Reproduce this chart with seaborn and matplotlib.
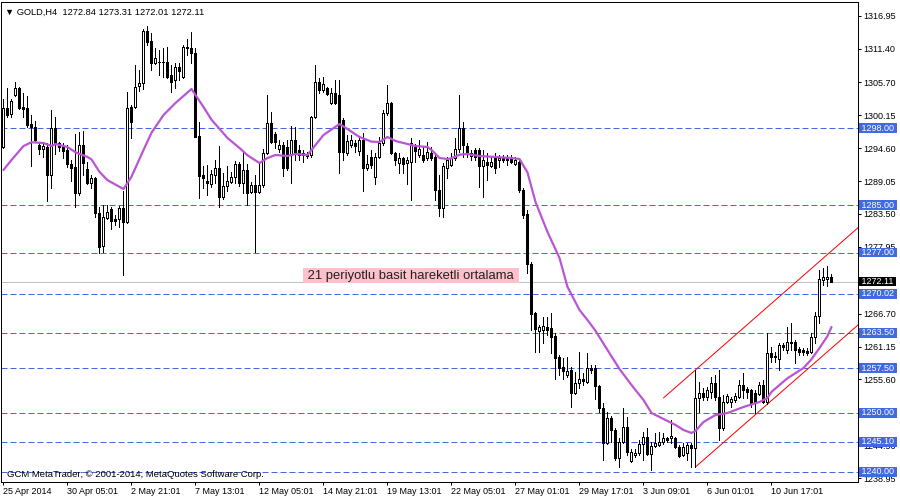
import matplotlib
matplotlib.use("Agg")
import matplotlib.pyplot as plt
import matplotlib.transforms as mtransforms
import numpy as np
import pandas as pd
import seaborn as sns

# GOLD H4 candles, bar 0 = 25 Apr 2014
opens = [
    1294.81, 1301.38, 1300.37, 1303.57, 1304.75, 1301.55, 1301.38, 1298.68, 1298.18, 1295.14,
    1294.47, 1294.81, 1290.08, 1298.01, 1295.48, 1294.97, 1294.30, 1291.94, 1291.43, 1287.04,
    1295.14, 1291.10, 1288.74, 1289.58, 1283.67, 1278.10, 1282.83, 1284.34, 1282.66, 1282.66,
    1284.51, 1282.15, 1301.55, 1301.55, 1305.09, 1305.60, 1314.36, 1312.68, 1308.97, 1309.14,
    1309.14, 1309.14, 1306.95, 1306.10, 1308.29, 1306.61, 1311.66, 1311.50, 1310.65, 1296.66,
    1290.08, 1289.07, 1288.57, 1290.08, 1291.26, 1286.37, 1288.23, 1288.90, 1289.75, 1291.94,
    1288.74, 1290.92, 1287.21, 1288.40, 1287.21, 1288.40, 1293.80, 1298.85, 1297.00, 1294.47,
    1295.14, 1294.81, 1293.46, 1295.99, 1294.30, 1293.46, 1293.46, 1293.46, 1299.86, 1305.76,
    1304.42, 1304.75, 1302.22, 1303.91, 1303.57, 1299.36, 1293.80, 1295.14, 1295.48, 1294.13,
    1295.99, 1291.26, 1293.12, 1289.75, 1293.12, 1295.48, 1300.54, 1302.22, 1293.80, 1292.11,
    1292.95, 1292.11, 1292.27, 1294.81, 1293.46, 1293.46, 1292.95, 1293.80, 1293.12, 1287.55,
    1284.51, 1291.26, 1291.77, 1292.95, 1294.47, 1298.01, 1294.97, 1293.29, 1294.30, 1294.30,
    1291.60, 1292.27, 1291.60, 1293.12, 1292.61, 1293.12, 1292.95, 1292.95, 1291.94, 1292.27,
    1287.55, 1283.50, 1275.07, 1266.81, 1263.77, 1263.94, 1264.45, 1264.28, 1262.92, 1259.39,
    1257.70, 1256.35, 1257.19, 1253.32, 1255.00, 1255.68, 1255.17, 1257.53, 1257.53, 1254.50,
    1250.79, 1244.88, 1249.10, 1247.08, 1242.35, 1245.05, 1247.58, 1241.84, 1242.86, 1243.19,
    1244.71, 1245.89, 1243.03, 1244.38, 1244.55, 1245.05, 1245.72, 1245.72, 1245.72, 1244.21,
    1242.86, 1243.19, 1244.55, 1244.04, 1252.48, 1253.32, 1252.65, 1253.49, 1255.00, 1252.65,
    1247.42, 1251.80, 1251.80, 1252.14, 1252.65, 1254.67, 1254.00, 1253.83, 1253.32, 1253.15,
    1254.67, 1251.80, 1260.07, 1259.56, 1259.05, 1261.41, 1260.57, 1261.92, 1261.92, 1260.74,
    1260.57, 1260.40, 1260.24, 1262.76, 1266.30, 1272.37, 1272.54, 1272.84,
]
highs = [
    1302.90, 1304.75, 1302.90, 1305.76, 1304.92, 1303.91, 1303.40, 1300.20, 1299.19, 1295.48,
    1295.48, 1295.48, 1301.04, 1299.86, 1295.65, 1295.48, 1295.14, 1292.61, 1297.00, 1297.33,
    1297.50, 1292.27, 1290.08, 1289.75, 1284.68, 1285.02, 1285.02, 1284.68, 1283.33, 1284.85,
    1287.38, 1304.08, 1301.89, 1308.63, 1307.79, 1314.70, 1315.21, 1314.03, 1311.50, 1311.16,
    1311.50, 1311.66, 1308.63, 1308.97, 1308.97, 1312.00, 1313.01, 1314.19, 1311.50, 1299.02,
    1291.60, 1291.77, 1290.92, 1292.61, 1294.97, 1290.42, 1291.60, 1290.59, 1292.44, 1292.27,
    1294.13, 1291.94, 1288.90, 1290.08, 1292.27, 1294.47, 1303.57, 1300.71, 1297.33, 1295.99,
    1295.65, 1295.99, 1298.34, 1298.18, 1295.14, 1294.30, 1293.97, 1300.03, 1308.63, 1306.44,
    1306.61, 1304.92, 1304.75, 1306.10, 1306.10, 1299.70, 1296.83, 1296.83, 1295.99, 1296.49,
    1297.17, 1293.46, 1294.30, 1293.80, 1296.49, 1301.04, 1305.26, 1302.39, 1293.97, 1293.80,
    1293.12, 1293.12, 1296.32, 1295.31, 1295.99, 1294.81, 1295.65, 1294.81, 1293.46, 1290.08,
    1292.11, 1293.12, 1293.80, 1296.32, 1303.57, 1299.02, 1295.48, 1294.30, 1294.64, 1294.64,
    1294.30, 1293.80, 1293.12, 1293.80, 1293.46, 1293.46, 1293.46, 1293.46, 1293.12, 1292.61,
    1287.88, 1284.17, 1275.41, 1266.98, 1264.78, 1266.14, 1266.14, 1266.81, 1263.43, 1259.73,
    1259.22, 1259.39, 1257.70, 1256.86, 1260.24, 1256.69, 1260.07, 1258.04, 1258.04, 1254.67,
    1251.63, 1250.12, 1249.44, 1247.42, 1245.72, 1250.79, 1249.27, 1243.87, 1243.87, 1245.39,
    1246.74, 1247.42, 1245.05, 1246.57, 1246.74, 1246.57, 1245.89, 1248.76, 1245.89, 1244.55,
    1244.88, 1244.88, 1244.88, 1257.20, 1255.17, 1254.17, 1254.34, 1256.02, 1256.35, 1257.20,
    1252.98, 1253.15, 1252.65, 1253.32, 1255.51, 1256.69, 1254.34, 1254.00, 1253.83, 1255.17,
    1255.51, 1263.43, 1261.08, 1260.24, 1261.75, 1261.75, 1264.45, 1265.12, 1262.25, 1261.08,
    1260.91, 1260.91, 1263.43, 1266.98, 1274.06, 1274.40, 1274.73, 1273.31,
]
lows = [
    1294.64, 1299.86, 1299.86, 1303.40, 1301.21, 1299.86, 1298.18, 1291.60, 1295.65, 1293.63,
    1293.12, 1285.69, 1287.88, 1293.63, 1294.13, 1292.95, 1291.43, 1289.07, 1284.68, 1286.70,
    1290.08, 1288.60, 1287.88, 1283.00, 1276.93, 1277.10, 1282.66, 1280.97, 1281.64, 1281.30,
    1273.22, 1281.90, 1296.32, 1301.30, 1304.25, 1304.58, 1312.00, 1307.79, 1308.80, 1306.95,
    1306.61, 1306.44, 1304.08, 1304.75, 1306.10, 1306.44, 1310.31, 1308.97, 1296.40, 1286.20,
    1287.88, 1286.70, 1288.05, 1288.74, 1284.68, 1286.03, 1287.38, 1288.74, 1288.74, 1288.23,
    1287.04, 1285.02, 1287.04, 1277.10, 1287.04, 1288.05, 1293.63, 1295.48, 1294.64, 1293.97,
    1289.91, 1290.90, 1288.74, 1292.61, 1292.61, 1292.27, 1292.95, 1293.12, 1299.69, 1303.91,
    1304.08, 1303.57, 1302.10, 1302.10, 1290.42, 1292.61, 1293.46, 1294.81, 1293.97, 1293.46,
    1287.38, 1290.92, 1291.26, 1288.57, 1292.95, 1295.14, 1300.20, 1293.63, 1291.77, 1290.42,
    1290.42, 1288.57, 1285.86, 1292.27, 1293.12, 1292.27, 1292.61, 1292.61, 1285.86, 1283.16,
    1283.00, 1289.58, 1291.60, 1292.61, 1293.97, 1293.12, 1293.12, 1292.61, 1292.61, 1288.05,
    1286.37, 1289.24, 1291.43, 1290.42, 1291.43, 1292.27, 1291.77, 1292.11, 1291.77, 1287.21,
    1282.83, 1273.55, 1263.94, 1260.24, 1260.24, 1261.75, 1263.10, 1260.07, 1255.68, 1256.35,
    1255.68, 1256.02, 1250.96, 1253.15, 1254.17, 1254.67, 1255.00, 1256.69, 1252.31, 1250.12,
    1242.01, 1244.71, 1245.05, 1242.01, 1240.84, 1244.88, 1242.86, 1241.68, 1242.52, 1242.86,
    1242.01, 1242.86, 1240.33, 1244.21, 1244.40, 1244.71, 1245.05, 1244.88, 1244.10, 1242.52,
    1242.69, 1242.01, 1240.84, 1240.84, 1250.12, 1252.14, 1252.14, 1252.48, 1252.14, 1245.39,
    1247.08, 1251.63, 1250.96, 1251.80, 1252.48, 1252.48, 1252.48, 1250.96, 1249.95, 1252.98,
    1251.63, 1251.50, 1258.54, 1258.54, 1257.20, 1260.57, 1260.07, 1260.57, 1258.38, 1259.73,
    1259.73, 1259.73, 1260.07, 1261.75, 1265.12, 1271.53, 1271.36, 1272.01,
]
closes = [
    1301.38, 1300.20, 1302.56, 1304.75, 1301.38, 1301.21, 1298.51, 1298.18, 1295.99, 1294.47,
    1294.97, 1290.08, 1298.01, 1295.48, 1294.81, 1294.13, 1291.94, 1291.26, 1287.04, 1295.14,
    1292.11, 1288.74, 1289.58, 1283.67, 1277.94, 1283.00, 1283.84, 1282.32, 1282.32, 1284.51,
    1282.15, 1301.38, 1299.02, 1304.92, 1305.60, 1314.36, 1312.51, 1308.97, 1309.81, 1309.10,
    1309.20, 1306.61, 1305.76, 1308.29, 1307.62, 1311.66, 1311.50, 1310.65, 1296.49, 1289.91,
    1289.58, 1288.74, 1290.25, 1291.26, 1286.37, 1288.23, 1289.07, 1289.75, 1291.94, 1288.74,
    1290.92, 1287.04, 1288.40, 1287.21, 1288.40, 1293.80, 1298.85, 1295.65, 1295.65, 1295.14,
    1291.26, 1291.26, 1295.99, 1293.63, 1293.46, 1293.80, 1293.29, 1299.86, 1305.76, 1304.42,
    1305.43, 1303.74, 1303.91, 1302.22, 1293.97, 1293.97, 1295.82, 1295.99, 1294.97, 1295.99,
    1291.26, 1291.94, 1291.77, 1293.12, 1295.48, 1300.54, 1302.22, 1293.80, 1292.61, 1292.95,
    1291.94, 1292.61, 1295.48, 1294.13, 1294.47, 1292.61, 1293.97, 1292.95, 1287.55, 1284.51,
    1291.60, 1292.61, 1292.95, 1294.47, 1298.01, 1295.14, 1293.80, 1293.80, 1293.12, 1291.60,
    1292.61, 1291.77, 1292.27, 1291.26, 1292.95, 1292.61, 1292.61, 1292.27, 1292.61, 1287.55,
    1283.33, 1275.07, 1266.64, 1264.11, 1264.45, 1264.62, 1263.94, 1262.76, 1259.22, 1257.53,
    1257.03, 1257.03, 1253.32, 1255.00, 1255.68, 1255.34, 1257.53, 1257.19, 1254.50, 1250.79,
    1244.88, 1249.10, 1247.08, 1242.35, 1245.05, 1247.58, 1243.36, 1243.36, 1243.19, 1244.71,
    1245.89, 1243.03, 1244.38, 1244.88, 1245.05, 1245.72, 1245.39, 1246.06, 1244.21, 1242.69,
    1244.21, 1244.55, 1244.04, 1252.48, 1253.32, 1252.65, 1253.83, 1255.00, 1252.65, 1247.42,
    1251.80, 1252.81, 1252.31, 1252.81, 1254.67, 1253.83, 1253.49, 1251.63, 1251.63, 1254.67,
    1251.80, 1260.07, 1259.39, 1259.39, 1261.41, 1261.08, 1261.92, 1261.75, 1260.57, 1260.24,
    1260.24, 1260.07, 1262.76, 1266.30, 1272.54, 1272.88, 1272.88, 1272.11,
]

# 21-period simple moving average
ma_bars = [0, 2, 5, 7, 10, 12, 13, 16, 18, 21, 22, 24, 26, 30, 32, 35, 37, 40, 43, 47,
           50, 52, 56, 59, 61, 64, 66, 68, 71, 73, 76, 77, 80, 84, 86, 89, 92, 94, 96, 98,
           101, 103, 106, 107, 109, 111, 112, 114, 116, 119, 123, 127, 129, 131, 133, 136,
           139, 141, 144, 146, 148, 151, 154, 157, 160, 162, 165, 168, 170, 172, 173, 175,
           178, 181, 185, 189, 191, 192, 194, 196, 200, 202, 204, 206, 207]
ma_values = [1290.92, 1292.60, 1294.96, 1295.60, 1295.47, 1294.96, 1295.30, 1294.80, 1293.90,
             1293.11, 1292.70, 1290.60, 1289.20, 1287.71, 1289.80, 1294.29, 1297.20, 1300.19,
             1302.22, 1304.58, 1301.54, 1299.40, 1296.31, 1294.63, 1293.40, 1292.10, 1292.94,
             1293.45, 1293.28, 1293.62, 1293.45, 1294.30, 1296.82, 1298.67, 1297.83, 1296.48,
             1295.70, 1295.64, 1296.48, 1295.81, 1295.30, 1294.96, 1294.80, 1294.30, 1292.94,
             1292.77, 1292.90, 1293.50, 1293.62, 1293.28, 1293.11, 1292.94, 1292.77, 1290.50,
             1285.52, 1280.46, 1276.08, 1271.20, 1267.31, 1265.62, 1263.80, 1260.56, 1257.36,
             1254.66, 1252.13, 1249.94, 1248.93, 1247.92, 1247.07, 1246.57, 1246.91, 1248.42,
             1249.60, 1249.94, 1250.95, 1251.80, 1252.47, 1253.50, 1254.66, 1255.80, 1257.53,
             1259.00, 1260.90, 1262.93, 1264.44]

date_ticks = [0, 16, 32, 48, 64, 80, 96, 112, 128, 144, 160, 176, 192]
date_labels = ["25 Apr 2014", "30 Apr 05:01", "2 May 21:01", "7 May 13:01", "12 May 05:01",
               "14 May 21:01", "19 May 13:01", "22 May 05:01", "27 May 01:01", "29 May 17:01",
               "3 Jun 09:01", "6 Jun 01:01", "10 Jun 17:01"]
price_ticks = [1316.95, 1311.40, 1305.70, 1300.15, 1294.60, 1289.05, 1283.50, 1277.95,
               1272.40, 1266.70, 1261.15, 1255.60, 1250.05, 1244.50, 1238.95]
# tick labels that sit fully under a price box in the original
hidden_ticks = [1272.40, 1250.05]
levels = [1298.00, 1285.00, 1277.00, 1270.02, 1263.50, 1257.50, 1250.00, 1245.10, 1240.00]
bid = 1272.11
upper_x, upper_y = [165, 214], [1252.48, 1281.40]
lower_x, lower_y = [173, 214], [1240.84, 1265.00]

sns.set_style("white")
plt.rcParams['font.family'] = ['Liberation Sans', 'DejaVu Sans']
plt.rcParams['axes.edgecolor'] = 'black'
plt.rcParams['axes.linewidth'] = 0.72

df = pd.DataFrame({'open': opens, 'high': highs, 'low': lows, 'close': closes})
df['bar'] = np.arange(len(df))
rising = df['close'] >= df['open']

fig = plt.figure(figsize=(9, 5), dpi=100)
ax = fig.add_axes([1 / 900, 18 / 500, 857 / 900, 480 / 500])

# horizontal levels, bid line and channel
for v in levels:
    ax.axhline(v, color='#4169E1', linewidth=0.72, linestyle=(0, (6, 3)), zorder=1)
ax.axhline(bid, color='#C0C0C0', linewidth=0.72, zorder=1)
ax.plot(upper_x, upper_y, color='red', linewidth=0.72, zorder=2)
ax.plot(lower_x, lower_y, color='red', linewidth=0.72, zorder=2)

# candles: wicks, then bodies (hollow when rising)
ax.vlines(df['bar'], df['low'], df['high'], color='black', linewidth=0.72,
          antialiased=False, zorder=3)
ax.bar(df['bar'], (df['close'] - df['open']).abs(),
       bottom=df[['open', 'close']].min(axis=1), width=0.5,
       color=np.where(rising, 'white', 'black'), edgecolor='black',
       linewidth=0.72, antialiased=False, zorder=4)

sns.lineplot(x=ma_bars, y=ma_values, color='#BA55D3', linewidth=1.6, ax=ax, zorder=5)

ax.set_xlim(-0.625, 213.625)
ax.set_ylim(1238.30, 1319.25)

ax.yaxis.tick_right()
ax.set_yticks(price_ticks)
ax.set_yticklabels(["" if t in hidden_ticks else f"{t:.2f}" for t in price_ticks])
ax.set_xticks(date_ticks)
ax.set_xticklabels(date_labels, ha='left')
ax.tick_params(axis='y', direction='out', length=2.5, width=0.72, pad=1.2,
               labelsize=6.5, colors='black', right=True, left=False)
ax.tick_params(axis='x', direction='out', length=2.5, width=0.72, pad=0.8,
               labelsize=6.5, colors='black', bottom=True)
ax.set_xlabel('')
ax.set_ylabel('')
for s in ax.spines.values():
    s.set_visible(True)
    s.set_color('black')
    s.set_linewidth(0.72)

# price labels on the axis
trans = mtransforms.blended_transform_factory(ax.transAxes, ax.transData)
for v in levels:
    ax.annotate(f" {v:.2f} ", xy=(1, v), xycoords=trans, xytext=(0.8, 0),
                textcoords='offset points', ha='left', va='center', fontsize=6.5,
                color='white', annotation_clip=False, zorder=6,
                bbox=dict(boxstyle='square,pad=0.05', fc='#4169E1', ec='none'))
ax.annotate(f" {bid:.2f} ", xy=(1, bid), xycoords=trans, xytext=(0.8, 0),
            textcoords='offset points', ha='left', va='center', fontsize=6.5,
            color='white', annotation_clip=False, zorder=7,
            bbox=dict(boxstyle='square,pad=0.05', fc='black', ec='none'))

ax.text(0.005, 0.979, "\u25bc GOLD,H4  1272.84 1273.31 1272.01 1272.11",
        transform=ax.transAxes, ha='left', va='center', fontsize=6.7, color='black')
ax.text(0.007, 0.0146, "GCM MetaTrader; \u00a9 2001-2014, MetaQuotes Software Corp.",
        transform=ax.transAxes, ha='left', va='center', fontsize=6.8, color='black')
ax.text(75.2, 1273.1, " 21 periyotlu basit hareketli ortalama ", ha='left', va='center',
        fontsize=9.4, color='#222222', zorder=6,
        bbox=dict(boxstyle='square,pad=0.1', fc='#FFC0CB', ec='none'))

fig.savefig("out.png", dpi=100)
